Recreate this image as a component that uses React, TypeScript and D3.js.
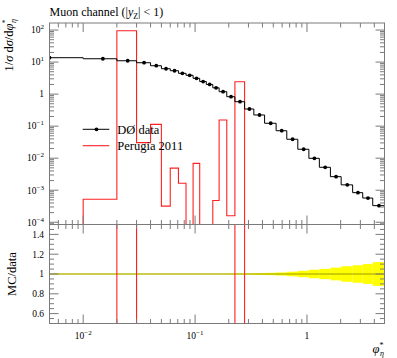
import React from "react";
import * as d3 from "d3";

// ---- data ----
const binEdges = [0, 0.01, 0.02, 0.03, 0.04, 0.05, 0.06, 0.071, 0.083, 0.096, 0.11, 0.126, 0.144, 0.164, 0.192, 0.227, 0.277, 0.335, 0.418, 0.53, 0.66, 0.828, 1.04, 1.29, 1.62, 2.02, 2.56, 3.15, 3.87, 4.93];
const dataValues = [13.7, 12.7, 11.0, 9.55, 7.7, 6.2, 5.37, 4.46, 3.86, 3.11, 2.47, 2.0, 1.57, 1.19, 0.83, 0.58, 0.343, 0.223, 0.123, 0.072, 0.039, 0.019, 0.0099, 0.0052, 0.00265, 0.00147, 0.00084, 0.00057, 0.00033];
const mcValues = [0, 5.2e-4, 95, 0.0305, 0.114, 3.2e-4, 0.0049, 0.00165, 0, 0.0069, 0, 0, 4.8e-4, 0.155, 1.6e-4, 2.44, 0, 0, 0, 0, 0, 0, 0, 0, 0, 0, 0, 0, 0];
const dataRelErr = [0.004, 0.004, 0.004, 0.004, 0.004, 0.004, 0.004, 0.004, 0.004, 0.004, 0.004, 0.004, 0.004, 0.004, 0.005, 0.006, 0.007, 0.009, 0.012, 0.016, 0.023, 0.032, 0.043, 0.052, 0.064, 0.078, 0.088, 0.1, 0.12];
const xTickExps = [-2, -1, 0];
const yTickExps = [2, 1, 0, -1, -2, -3, -4];
const ratioTickLabels = [0.6, 0.8, 1, 1.2, 1.4];
const seriesNames = ["DØ data", "Perugia 2011"];

const xMin = 0.005, xMax = 4.93;
const yMin = Math.pow(10, -4.07), yMax = Math.pow(10, 2.22);

const FONT = "Liberation Serif, DejaVu Serif, serif";
const FRAME = "#7a7a7a";

function powLabel(e: number) {
  if (e === 0) return <tspan>1</tspan>;
  return (
    <>
      <tspan>10</tspan>
      <tspan dy={-4} fontSize={7}>{e < 0 ? "−" + -e : String(e)}</tspan>
    </>
  );
}

export default function App() {
  const xL = 49.5, xR = 384.5;
  const tY0 = 23, tY1 = 224.5;
  const rY0 = 224.5, rY1 = 323.5;

  const x = d3.scaleLog().domain([xMin, xMax]).range([xL, xR]);
  const y = d3.scaleLog().domain([yMin, yMax]).range([tY1, tY0]);
  const yr = d3.scaleLinear().domain([0.5, 1.5]).range([rY1, rY0]);

  const binX0 = (i: number) => x(Math.max(binEdges[i], xMin));
  const binX1 = (i: number) => x(Math.min(binEdges[i + 1], xMax));

  const stepPath = (vals: number[], yFn: (v: number, i: number) => number) => {
    const p = d3.path();
    vals.forEach((v, i) => {
      const yy = yFn(v, i);
      if (i === 0) p.moveTo(binX0(i), yy);
      else p.lineTo(binX0(i), yy);
      p.lineTo(binX1(i), yy);
    });
    return p.toString();
  };

  const topY = (v: number) => (v > 0 ? y(v) : tY1 + 20);
  const ratioY = (v: number, i: number) => {
    const r = v / dataValues[i];
    return yr(Math.max(0.3, Math.min(1.7, r)));
  };

  const dataPath = stepPath(dataValues, (v) => topY(v));
  const mcPath = stepPath(mcValues, (v) => topY(v));
  const mcRatioPath = stepPath(mcValues, ratioY);

  const xTicks: { v: number; major: boolean }[] = [];
  for (let n = -3; n <= 1; n++)
    for (let k = 1; k <= 9; k++) {
      const v = k * Math.pow(10, n);
      if (v >= xMin * 0.999 && v <= xMax) xTicks.push({ v, major: k === 1 });
    }
  const yTicks: { v: number; major: boolean }[] = [];
  for (let n = -5; n <= 2; n++)
    for (let k = 1; k <= 9; k++) {
      const v = k * Math.pow(10, n);
      if (v >= yMin && v <= yMax) yTicks.push({ v, major: k === 1 });
    }
  const rTicks: { v: number; major: boolean }[] = [];
  for (let j = 0; j <= 20; j++) {
    const v = 0.5 + j * 0.05;
    const major = ratioTickLabels.some((t) => Math.abs(t - v) < 1e-6);
    rTicks.push({ v, major });
  }

  const MJ = 9, MN = 4.5;

  const panelTicks = (yTop: number, yBot: number, yScale: (v: number) => number, ys: { v: number; major: boolean }[]) => (
    <g stroke={FRAME} strokeWidth={1}>
      {xTicks.map((t, i) => {
        const xx = x(t.v);
        const L = t.major ? MJ : MN;
        return (
          <g key={"xt" + i}>
            <line x1={xx} x2={xx} y1={yTop} y2={yTop + L} />
            <line x1={xx} x2={xx} y1={yBot} y2={yBot - L} />
          </g>
        );
      })}
      {ys.map((t, i) => {
        const yy = yScale(t.v);
        const L = t.major ? MJ : MN;
        return (
          <g key={"yt" + i}>
            <line x1={xL} x2={xL + L} y1={yy} y2={yy} />
            <line x1={xR} x2={xR - L} y1={yy} y2={yy} />
          </g>
        );
      })}
      <rect x={xL} y={yTop} width={xR - xL} height={yBot - yTop} fill="none" />
    </g>
  );

  return (
    <svg width={397} height={358} style={{ position: "absolute", left: 0, top: 0, background: "#fff", fontFamily: FONT }} fontFamily={FONT}>
      <defs>
        <clipPath id="clipTop">
          <rect x={xL} y={tY0} width={xR - xL} height={tY1 - tY0} />
        </clipPath>
        <clipPath id="clipRatio">
          <rect x={xL} y={rY0} width={xR - xL} height={rY1 - rY0} />
        </clipPath>
      </defs>

      <text x={49.5} y={16} fontSize={12} fill="#000">
        Muon channel (|<tspan fontStyle="italic">y</tspan>
        <tspan fontSize={8} dy={2.5}>Z</tspan>
        <tspan dy={-2.5}>| &lt; 1)</tspan>
      </text>

      <g clipPath="url(#clipTop)">
        <path d={mcPath} fill="none" stroke="#ff2020" strokeWidth={1.1} />
        <path d={dataPath} fill="none" stroke="#000" strokeWidth={1} />
        {dataValues.map((v, i) => (
          <circle key={i} cx={x(Math.max((binEdges[i] + binEdges[i + 1]) / 2, xMin))} cy={y(v)} r={1.9} fill="#000" />
        ))}
      </g>
      {panelTicks(tY0, tY1, (v) => y(v), yTicks)}

      <line x1={82.7} x2={109.3} y1={129.3} y2={129.3} stroke="#000" strokeWidth={1} />
      <circle cx={96.5} cy={129.3} r={1.9} fill="#000" />
      <text x={117.3} y={133.5} fontSize={12.5}>{seriesNames[0]}</text>
      <line x1={82.7} x2={109.3} y1={145.7} y2={145.7} stroke="#ff2020" strokeWidth={1.1} />
      <text x={117.3} y={149.5} fontSize={12.5}>{seriesNames[1]}</text>

      <g clipPath="url(#clipRatio)">
        {dataRelErr.map((e, i) => (
          <rect key={i} x={binX0(i)} width={binX1(i) - binX0(i)} y={yr(1 + e)} height={yr(1 - e) - yr(1 + e)} fill="#ffff00" />
        ))}
        <line x1={xL} x2={xR} y1={yr(1)} y2={yr(1)} stroke="#9a9a00" strokeWidth={1} />
        <path d={mcRatioPath} fill="none" stroke="#ff2020" strokeWidth={1.1} />
      </g>
      {panelTicks(rY0, rY1, (v) => yr(v), rTicks)}

      {yTickExps.map((e) => (
        <text key={"yl" + e} x={44} y={y(Math.pow(10, e)) + 3.3} fontSize={9.5} textAnchor="end">
          {powLabel(e)}
        </text>
      ))}
      {ratioTickLabels.map((v) => (
        <text key={"rl" + v} x={44} y={yr(v) + 3.3} fontSize={9.5} textAnchor="end">
          {String(v)}
        </text>
      ))}
      {xTickExps.map((e) => (
        <text key={"xl" + e} x={x(Math.pow(10, e))} y={338.5} fontSize={9.5} textAnchor="middle">
          {powLabel(e)}
        </text>
      ))}

      <text x={384} y={353} fontSize={12.5} textAnchor="end">
        <tspan fontStyle="italic">φ</tspan>
        <tspan fontSize={8} dy={-5}>*</tspan>
        <tspan fontSize={8} dx={-3.5} dy={8} fontStyle="italic">η</tspan>
      </text>
      <text transform="translate(12.5,19) rotate(-90)" fontSize={12.5} textAnchor="end">
        <tspan>1/</tspan>
        <tspan fontStyle="italic">σ</tspan>
        <tspan> d</tspan>
        <tspan fontStyle="italic">σ</tspan>
        <tspan>/d</tspan>
        <tspan fontStyle="italic">φ</tspan>
        <tspan fontSize={8} dy={-5}>*</tspan>
        <tspan fontSize={8} dx={-3.5} dy={8} fontStyle="italic">η</tspan>
      </text>
      <text transform={`translate(16,${yr(1)}) rotate(-90)`} fontSize={12.5} textAnchor="middle">
        MC/data
      </text>
    </svg>
  );
}
